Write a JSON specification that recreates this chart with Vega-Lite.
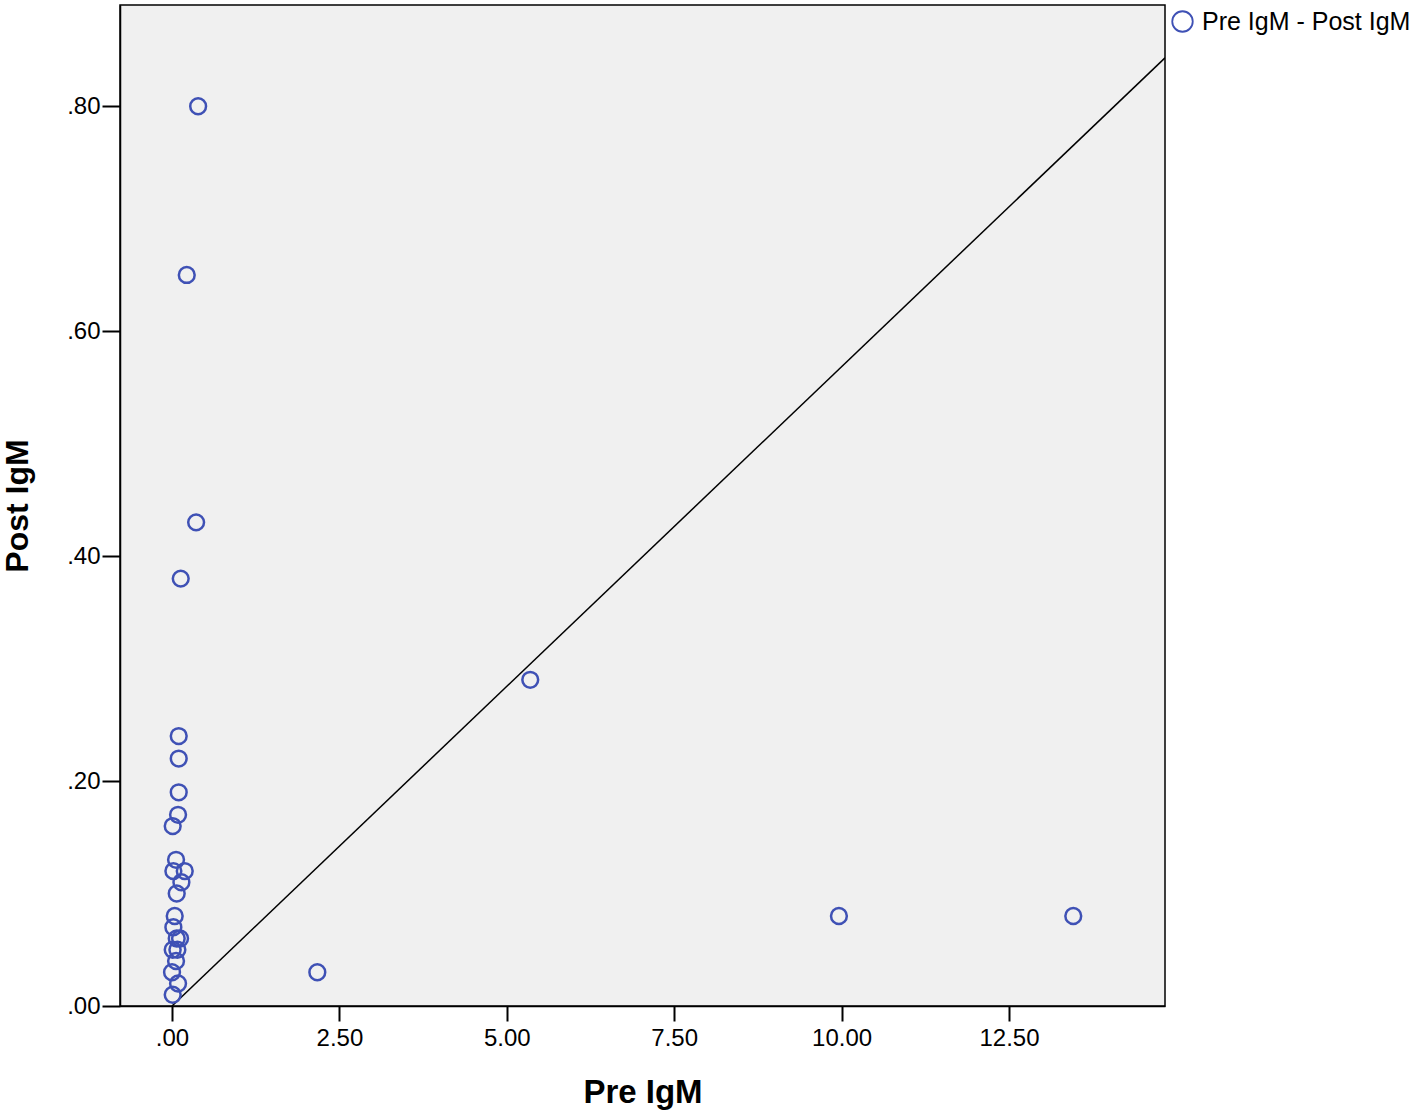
{
  "$schema": "https://vega.github.io/schema/vega-lite/v6.json",
  "width": 1045,
  "height": 1001,
  "autosize": "none",
  "padding": {"left": 120, "top": 5, "right": 258, "bottom": 109},
  "background": "white",
  "config": {
    "view": {"fill": "#f0f0f0", "stroke": "black", "strokeWidth": 1.5},
    "font": "Liberation Sans",
    "axis": {"grid": false, "domainColor": "black", "tickColor": "black", "domainWidth": 1.5, "tickWidth": 2, "labelColor": "black", "titleColor": "black", "labelFont": "Liberation Sans", "titleFont": "Liberation Sans"}
  },
  "datasets": {
    "points": [
      {"pre": 0.39, "post": 0.80},
      {"pre": 0.22, "post": 0.65},
      {"pre": 0.36, "post": 0.43},
      {"pre": 0.13, "post": 0.38},
      {"pre": 5.35, "post": 0.29},
      {"pre": 2.17, "post": 0.03},
      {"pre": 9.96, "post": 0.08},
      {"pre": 13.46, "post": 0.08},
      {"pre": 0.10, "post": 0.24},
      {"pre": 0.10, "post": 0.22},
      {"pre": 0.10, "post": 0.19},
      {"pre": 0.09, "post": 0.17},
      {"pre": 0.01, "post": 0.16},
      {"pre": 0.06, "post": 0.13},
      {"pre": 0.02, "post": 0.12},
      {"pre": 0.19, "post": 0.12},
      {"pre": 0.14, "post": 0.11},
      {"pre": 0.07, "post": 0.10},
      {"pre": 0.04, "post": 0.08},
      {"pre": 0.02, "post": 0.07},
      {"pre": 0.12, "post": 0.06},
      {"pre": 0.07, "post": 0.06},
      {"pre": 0.01, "post": 0.05},
      {"pre": 0.08, "post": 0.05},
      {"pre": 0.06, "post": 0.04},
      {"pre": 0.00, "post": 0.03},
      {"pre": 0.09, "post": 0.02},
      {"pre": 0.01, "post": 0.01}
    ],
    "refline": [
      {"pre": 0, "post": 0},
      {"pre": 14.83, "post": 0.843}
    ]
  },
  "layer": [
    {
      "data": {"name": "refline"},
      "mark": {"type": "line", "color": "black", "strokeWidth": 1.5, "clip": true},
      "encoding": {
        "x": {"field": "pre", "type": "quantitative"},
        "y": {"field": "post", "type": "quantitative"}
      }
    },
    {
      "data": {"name": "points"},
      "mark": {"type": "point", "shape": "circle", "filled": false, "size": 250, "strokeWidth": 2.5, "opacity": 1, "clip": true},
      "encoding": {
        "x": {
          "field": "pre", "type": "quantitative",
          "scale": {"domain": [-0.777, 14.83], "nice": false, "zero": false},
          "axis": {"title": "Pre IgM", "titleFontSize": 33, "titleFontWeight": "bold", "titlePadding": 26, "labelFontSize": 24, "tickSize": 15, "labelPadding": 5, "values": [0, 2.5, 5, 7.5, 10, 12.5], "labelExpr": "datum.value < 1 ? substring(format(datum.value, '.2f'), 1) : format(datum.value, '.2f')"}
        },
        "y": {
          "field": "post", "type": "quantitative",
          "scale": {"domain": [0, 0.89], "nice": false, "zero": false},
          "axis": {"title": "Post IgM", "titleFontSize": 32, "titleFontWeight": "bold", "titlePadding": 32, "labelFontSize": 24, "tickSize": 18, "labelPadding": 2, "values": [0, 0.2, 0.4, 0.6, 0.8], "labelExpr": "substring(format(datum.value, '.2f'), 1)"}
        },
        "color": {
          "datum": "Pre IgM - Post IgM", "type": "nominal",
          "scale": {"range": ["#3f51b5"]},
          "legend": {"title": null, "orient": "none", "legendX": 1050, "legendY": 4, "labelFontSize": 25, "labelColor": "black", "labelLimit": 0, "symbolSize": 420, "symbolStrokeWidth": 1.8, "labelOffset": 7, "symbolOpacity": 1}
        }
      }
    }
  ]
}
